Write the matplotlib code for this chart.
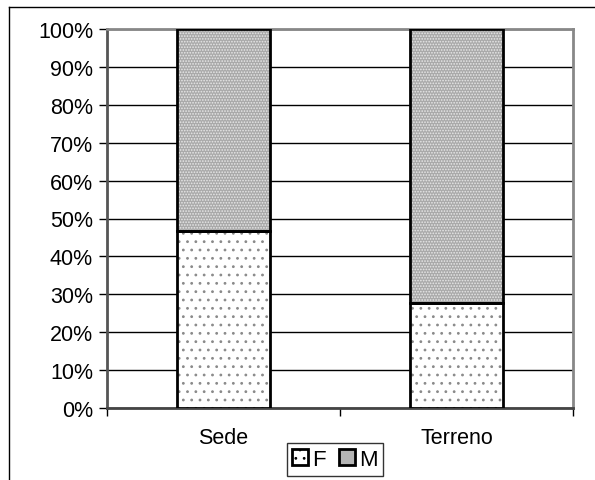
import matplotlib.pyplot as plt
import matplotlib.lines as mlines
from matplotlib.patches import Patch
import numpy as np

categorias = ["Sede", "Terreno"]
valoresF = [46.7, 27.7]
valoresM = [53.3, 72.3]

plt.rcParams['font.family'] = ['Liberation Sans', 'DejaVu Sans']
plt.rcParams['font.size'] = 15.5
plt.rcParams['hatch.linewidth'] = 0.8

fig = plt.figure(figsize=(5.95, 4.81), dpi=100)
ax = fig.add_axes([107/595, 1-409/481, (573-107)/595, (409-30)/481])

x = np.arange(len(categorias)) + 0.5
ancho = 0.4

# relleno con tramas, luego el contorno negro encima
ax.bar(x, valoresF, ancho, color='white', edgecolor='#8a8a8a', hatch='..', linewidth=0, zorder=3)
ax.bar(x, valoresM, ancho, bottom=valoresF, color='#a9a9a9', edgecolor='#e8e8e8', hatch='......', linewidth=0, zorder=3)
ax.bar(x, valoresF, ancho, fill=False, edgecolor='black', linewidth=2, zorder=4)
ax.bar(x, valoresM, ancho, bottom=valoresF, fill=False, edgecolor='black', linewidth=2, zorder=4)

ax.set_xlim(0, 2)
ax.set_ylim(0, 100)
ax.set_yticks(range(0, 101, 10))
ax.set_yticklabels([str(v) + "%" for v in range(0, 101, 10)])
ax.yaxis.grid(True, color='black', linewidth=1)
ax.set_axisbelow(True)

ax.set_xticks([0, 1, 2])
ax.set_xticklabels([])
ax.set_xticks(x, minor=True)
ax.set_xticklabels(categorias, minor=True)
ax.tick_params(axis='x', which='minor', length=0, pad=14)
ax.tick_params(axis='x', which='major', length=6, width=1, color='black')
ax.tick_params(axis='y', length=6, width=1, color='black', pad=4)

for s in ['top', 'right']:
    ax.spines[s].set_color('#888888')
    ax.spines[s].set_linewidth(2)
ax.spines['left'].set_color('#555555')
ax.spines['left'].set_linewidth(2)
ax.spines['bottom'].set_color('#444444')
ax.spines['bottom'].set_linewidth(2)

# marco exterior
fig.add_artist(mlines.Line2D([9/595, 9/595], [0, 1-8/481], color='black', linewidth=1))
fig.add_artist(mlines.Line2D([9/595, 1], [1-8/481, 1-8/481], color='black', linewidth=1))

leyenda = [Patch(facecolor='white', edgecolor='black', hatch='..', linewidth=2, label='F'),
           Patch(facecolor='#b4b4b4', edgecolor='black', linewidth=2, label='M')]
leg = fig.legend(handles=leyenda, loc='lower center', bbox_to_anchor=(335/595, 0), ncol=2,
                 frameon=True, fancybox=False, edgecolor='black', handlelength=0.7, handleheight=0.7,
                 handletextpad=0.2, columnspacing=0.6, borderpad=0.25, borderaxespad=0.2, fontsize=16)
leg.get_frame().set_linewidth(1)

plt.savefig("out.png", dpi=100)
